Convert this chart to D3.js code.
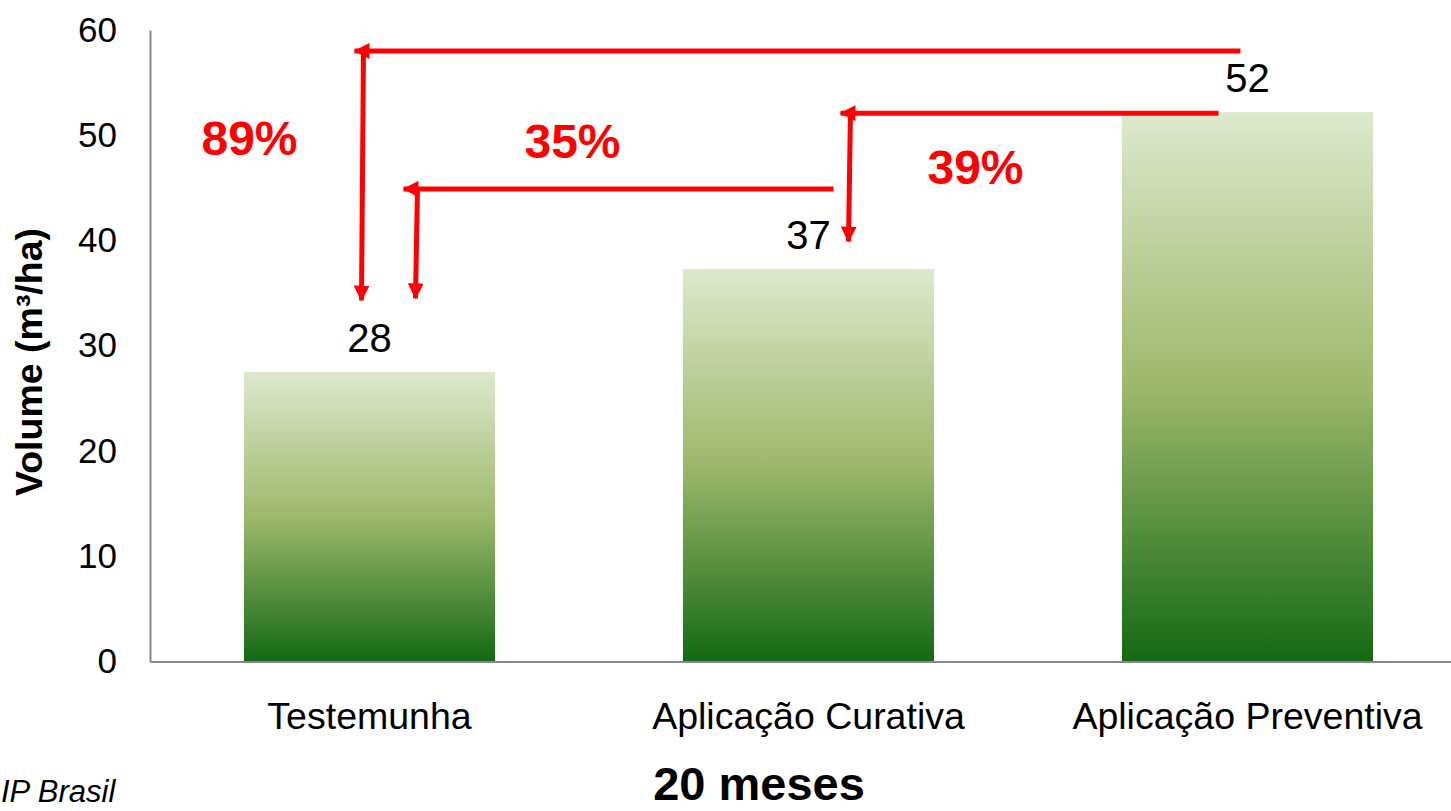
<!DOCTYPE html>
<html>
<head>
<meta charset="utf-8">
<script src="https://cdnjs.cloudflare.com/ajax/libs/d3/7.8.5/d3.min.js"></script>
<style>
  body { margin: 0; background: #fff; }
  svg { display: block; font-family: "Liberation Sans", Arial, sans-serif; }
</style>
</head>
<body>
<svg id="chart"></svg>
<script>
// data
var categories = ["Testemunha", "Aplicação Curativa", "Aplicação Preventiva"];
var volumes = [27.5, 37.3, 52.2];
var valueLabels = ["28", "37", "52"];
var yTicks = [0, 10, 20, 30, 40, 50, 60];

// comparison arrows: level = height of horizontal run, drop = where the vertical arrow ends
var arrowLevels = [58.0, 44.9, 52.1];
var arrowDrops = [34.3, 34.5, 39.9];
var arrowFrom = ["Aplicação Preventiva", "Aplicação Curativa", "Aplicação Preventiva"];
var arrowTo = ["Testemunha", "Testemunha", "Aplicação Curativa"];
var arrowText = ["89%", "35%", "39%"];
var arrowTextLevel = [48.1, 47.8, 45.4];

var WIDTH = 1451,
    HEIGHT = 811,
    MARGINS = { top: 30, left: 150, bottom: 149.5 };

var svg = d3.select("#chart")
    .attr("width", WIDTH)
    .attr("height", HEIGHT);

var xScale = d3.scaleBand()
    .domain(categories)
    .range([MARGINS.left, MARGINS.left + 3 * 439])
    .paddingInner(0.428)
    .paddingOuter(0.214);

var yScale = d3.scaleLinear()
    .domain([0, 60])
    .range([HEIGHT - MARGINS.bottom, MARGINS.top]);

var cx = function(c) { return xScale(c) + xScale.bandwidth() / 2; };

// gradient for bars
var grad = svg.append("defs").append("linearGradient")
    .attr("id", "barGrad")
    .attr("x1", 0).attr("y1", 0).attr("x2", 0).attr("y2", 1);
grad.append("stop").attr("offset", "0%").attr("stop-color", "#dde9cd");
grad.append("stop").attr("offset", "50%").attr("stop-color", "#9db86b");
grad.append("stop").attr("offset", "100%").attr("stop-color", "#146914");

svg.select("defs").append("marker")
    .attr("id", "head")
    .attr("markerUnits", "userSpaceOnUse")
    .attr("viewBox", "0 0 16 16")
    .attr("refX", 15).attr("refY", 8)
    .attr("markerWidth", 16).attr("markerHeight", 16)
    .attr("orient", "auto")
  .append("path")
    .attr("d", "M0,0 L16,8 L0,16 Z")
    .attr("fill", "#ff0000");

// bars
svg.selectAll("rect.bar")
    .data(volumes)
  .enter().append("rect")
    .attr("class", "bar")
    .attr("x", function(d, i) { return xScale(categories[i]); })
    .attr("width", xScale.bandwidth())
    .attr("y", function(d) { return yScale(d); })
    .attr("height", function(d) { return yScale(0) - yScale(d); })
    .attr("fill", "url(#barGrad)");

// axes
var yAxis = d3.axisLeft(yScale)
    .tickValues(yTicks)
    .tickSize(0)
    .tickPadding(33);
var gy = svg.append("g")
    .attr("transform", "translate(" + MARGINS.left + ",0)")
    .call(yAxis);
gy.select(".domain").attr("stroke", "#888").attr("stroke-width", 2);
gy.selectAll("text")
    .attr("font-size", 35)
    .attr("font-family", "Liberation Sans, Arial, sans-serif")
    .attr("fill", "#000");

var xAxis = d3.axisBottom(xScale)
    .tickSize(0)
    .tickPadding(41);
var gx = svg.append("g")
    .attr("transform", "translate(0," + yScale(0) + ")")
    .call(xAxis);
gx.select(".domain").attr("stroke", "#888").attr("stroke-width", 2);
gx.selectAll("text")
    .attr("font-size", 37.5)
    .attr("font-family", "Liberation Sans, Arial, sans-serif")
    .attr("fill", "#000");

// value labels
svg.selectAll("text.val")
    .data(volumes)
  .enter().append("text")
    .attr("class", "val")
    .attr("x", function(d, i) { return cx(categories[i]); })
    .attr("y", function(d) { return yScale(d) - 20; })
    .attr("text-anchor", "middle")
    .attr("font-size", 40)
    .text(function(d, i) { return valueLabels[i]; });

// arrows
var fromOff = [-7, 25, -29],
    toOff = [-15, 34, 32],
    dropOff = [-8, 46, 40],
    textOff = [-120, 203, 167];

arrowLevels.forEach(function(lv, i) {
    var yLv = yScale(lv);
    svg.append("line")
        .attr("x1", cx(arrowFrom[i]) + fromOff[i]).attr("y1", yLv)
        .attr("x2", cx(arrowTo[i]) + toOff[i]).attr("y2", yLv)
        .attr("stroke", "#ff0000").attr("stroke-width", 5)
        .attr("marker-end", "url(#head)");
    svg.append("line")
        .attr("x1", cx(arrowTo[i]) + dropOff[i] + 2).attr("y1", yLv - 2)
        .attr("x2", cx(arrowTo[i]) + dropOff[i]).attr("y2", yScale(arrowDrops[i]))
        .attr("stroke", "#ff0000").attr("stroke-width", 5)
        .attr("marker-end", "url(#head)");
    svg.append("text")
        .attr("x", cx(arrowTo[i]) + textOff[i])
        .attr("y", yScale(arrowTextLevel[i]))
        .attr("text-anchor", "middle")
        .attr("font-size", 48)
        .attr("font-weight", "bold")
        .attr("fill", "#ff0000")
        .text(arrowText[i]);
});

// titles
svg.append("text")
    .attr("transform", "translate(42,362) rotate(-90)")
    .attr("text-anchor", "middle")
    .attr("font-size", 37.5)
    .attr("font-weight", "bold")
    .text("Volume (m³/ha)");

svg.append("text")
    .attr("x", 759)
    .attr("y", 800)
    .attr("text-anchor", "middle")
    .attr("font-size", 47)
    .attr("font-weight", "bold")
    .text("20 meses");

svg.append("text")
    .attr("x", 1)
    .attr("y", 802)
    .attr("font-size", 31)
    .attr("font-style", "italic")
    .text("IP Brasil");
</script>
</body>
</html>
